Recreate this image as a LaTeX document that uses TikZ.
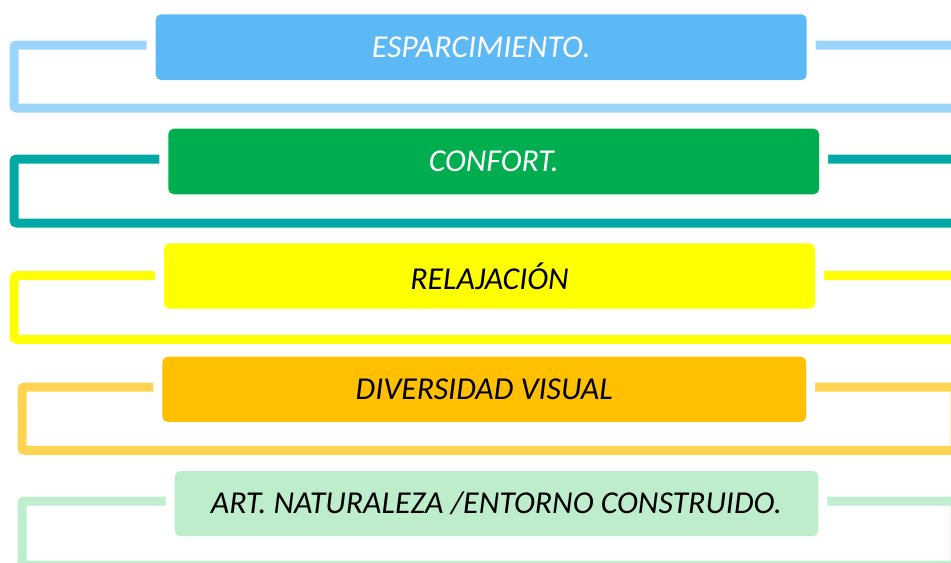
\documentclass[tikz,border=0pt]{standalone}
\usepackage{fontspec}
\setmainfont{Carlito}
\definecolor{fA}{HTML}{9DD4FA}
\definecolor{bA}{HTML}{5DB9F6}
\definecolor{fB}{HTML}{00A9A4}
\definecolor{bB}{HTML}{00AE4F}
\definecolor{fC}{HTML}{FFFF00}
\definecolor{bC}{HTML}{FFFF00}
\definecolor{fD}{HTML}{FFD452}
\definecolor{bD}{HTML}{FFC000}
\definecolor{fE}{HTML}{BFEECF}
\definecolor{bE}{HTML}{BDEDCB}
\begin{document}
\begin{tikzpicture}[x=0.75pt,y=-0.75pt,
  frame/.style={line width=6.75pt, rounded corners=2pt},
  box/.style={rectangle, rounded corners=4pt, inner sep=0pt, outer sep=0pt,
    font=\fontsize{23.9}{28}\selectfont\itshape,
    preaction={draw=white, line width=13.5pt}}]
\useasboundingbox (0,0) rectangle (951,562);
\clip (0,0) rectangle (951,562);
% frames
\draw[frame, fA] (14,45) rectangle (1000,108);
\draw[frame, fB] (14,159) rectangle (1000,223);
\draw[frame, fC] (14,275.7) rectangle (1000,339.3);
\draw[frame, fD] (22,387) rectangle (955,450.3);
\draw[frame, fE] (22,501) rectangle (955,565);
% boxes
\node[box, fill=bA, text=white, minimum width=488.25pt, minimum height=49.3pt] (esp) at (481.2,47.2) {ESPARCIMIENTO.};
\node[box, fill=bB, text=white, minimum width=488pt, minimum height=49.2pt] (conf) at (493.7,161.5) {CONFORT.};
\node[box, fill=bC, text=black, minimum width=488.25pt, minimum height=49pt] (rel) at (489.5,276) {RELAJACIÓN};
\node[box, fill=bD, text=black, minimum width=482.8pt, minimum height=49pt] (div) at (484.2,389.3) {DIVERSIDAD VISUAL};
\node[box, fill=bE, text=black, minimum width=482.7pt, minimum height=48.75pt] (art) at (496.5,503.5) {ART. NATURALEZA /ENTORNO CONSTRUIDO.};
\end{tikzpicture}
\end{document}
